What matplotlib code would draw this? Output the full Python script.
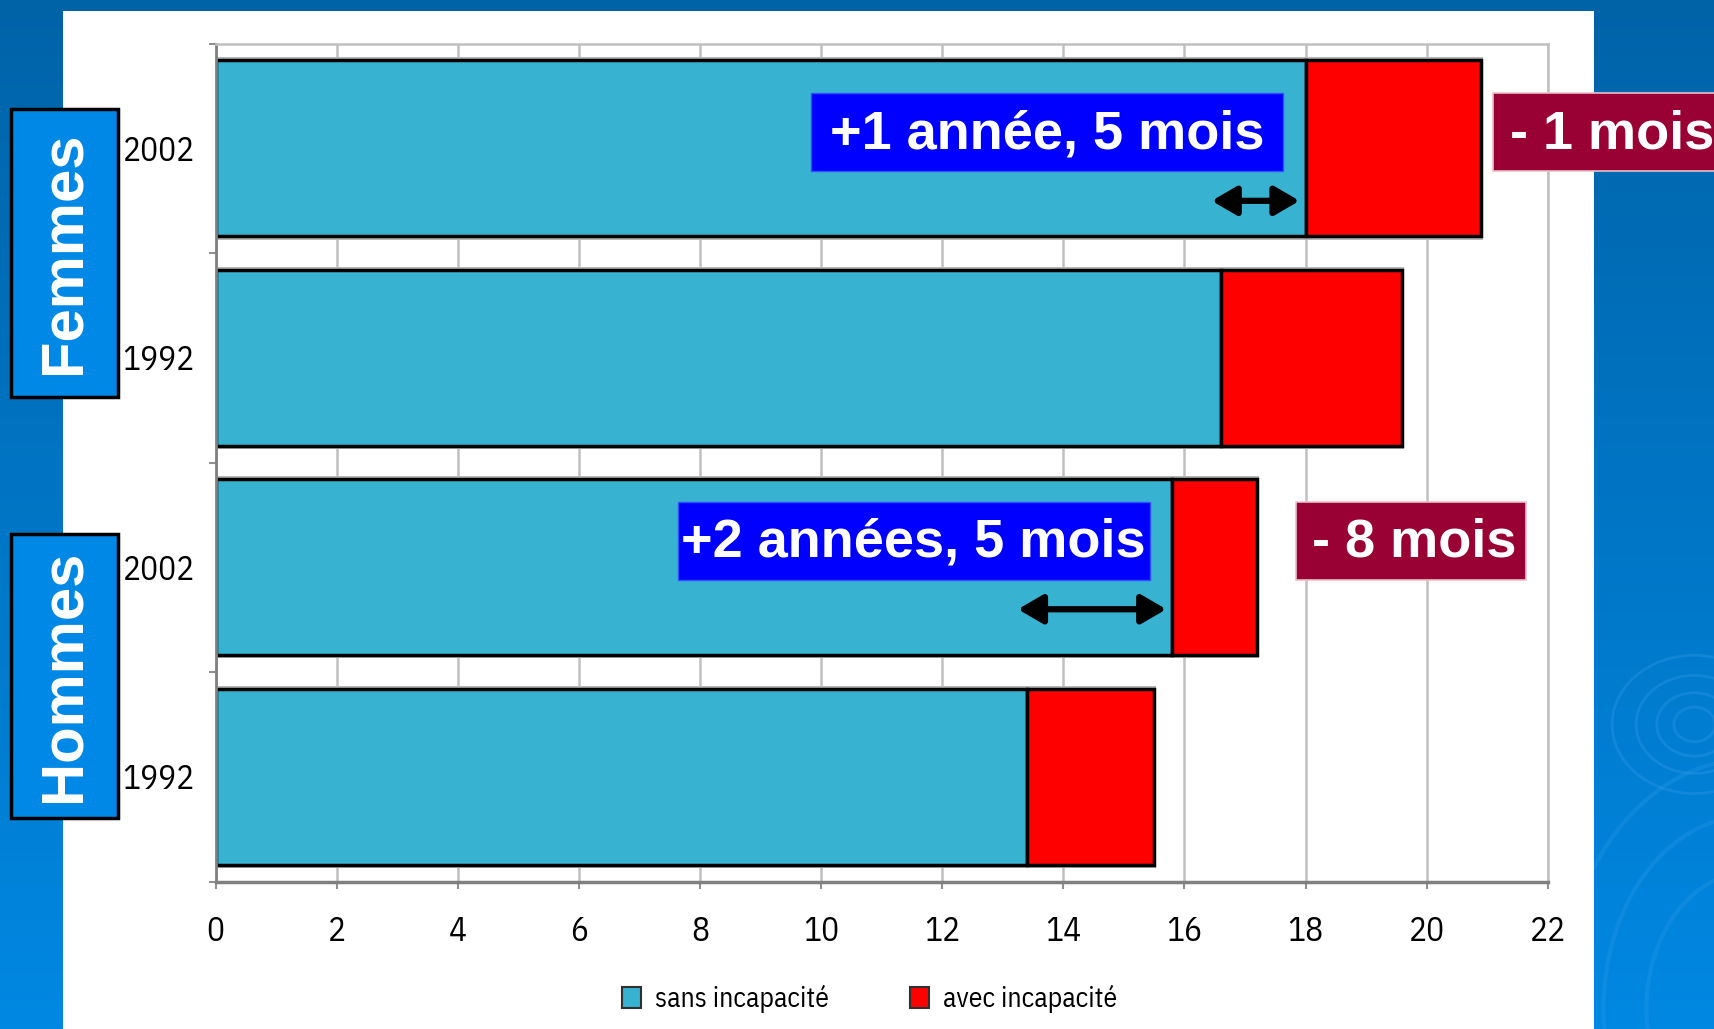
import numpy as np
import matplotlib.pyplot as plt
from matplotlib.patches import Rectangle, Patch, Ellipse
from matplotlib.colors import LinearSegmentedColormap

# life expectancy at 65 (years), split with / without disability
years = ['1992', '2002']
groups = ['Hommes', 'Femmes']
sans_hommes = [13.4, 15.8]
avec_hommes = [2.1, 1.4]
sans_femmes = [16.6, 18.0]
avec_femmes = [3.0, 2.9]
gain_labels = ['+2 années, 5 mois', '+1 année, 5 mois']
loss_labels = ['- 8 mois', '- 1 mois']
legend_labels = ['sans incapacité', 'avec incapacité']
x_ticks = list(range(0, 23, 2))

CYAN = '#37B2D1'
RED = '#FF0000'
BLUE = '#0000FF'
WINE = '#990033'
GROUP_BLUE = '#0088E6'
NARROW = ['Liberation Sans Narrow', 'IBM Plex Sans Condensed', 'DejaVu Sans']
BOLD = ['Liberation Sans', 'DejaVu Sans']

plt.rcParams['font.family'] = NARROW

fig = plt.figure(figsize=(17.15, 10.29), dpi=100)

# slide background + white panel
bg = fig.add_axes([0, 0, 1, 1], zorder=-10)
grad = np.linspace(0, 1, 256).reshape(-1, 1)
cmap = LinearSegmentedColormap.from_list('slide', ['#0063A8', '#0088E2'])
bg.imshow(grad, aspect='auto', cmap=cmap, extent=[0, 1, 0, 1], origin='upper')
# faint water ripples on the right edge
for r in [0.012, 0.022, 0.034, 0.048]:
    bg.add_patch(Ellipse((0.988, 0.296), 2 * r, 2 * r * 1.4, fill=False,
                         edgecolor='#3aa0ee', linewidth=2, alpha=0.3))
for r in [0.06, 0.085, 0.11]:
    bg.add_patch(Ellipse((1.02, 0.02), 2 * r, 2 * r * 2.2, fill=False,
                         edgecolor='#2c9ae8', linewidth=3, alpha=0.3))
bg.add_patch(Rectangle((0.037, 0), 0.8925, 0.989, facecolor='white', edgecolor='none'))
bg.set_xlim(0, 1)
bg.set_ylim(0, 1)
bg.axis('off')

ax = fig.add_axes([0.1257, 0.1433, 0.7768, 0.8142], facecolor='none')

sans = sans_hommes + sans_femmes
avec = avec_hommes + avec_femmes
ypos = np.arange(len(sans))
totals = np.array(sans) + np.array(avec)

# light grey shadow around the bars
ax.barh(ypos, totals + 0.06, height=0.87, left=-0.03, color='#b8b8b8', zorder=1)
ax.barh(ypos, sans, height=0.84, color=CYAN, edgecolor='black', linewidth=2.5, zorder=2)
ax.barh(ypos, avec, height=0.84, left=sans, color=RED, edgecolor='black', linewidth=2.5, zorder=2)

ax.set_xlim(0, 22)
ax.set_ylim(-0.5, 3.47)
ax.set_xticks(x_ticks)
ax.set_xticklabels([str(t) for t in x_ticks], fontsize=24)
ax.set_yticks(ypos)
ax.set_yticklabels(years * 2, fontsize=24)
ax.set_yticks(np.arange(-0.5, 3.6, 1), minor=True)
ax.tick_params(axis='y', which='major', length=0, pad=15)
ax.tick_params(axis='y', which='minor', length=5, color='#909090', width=1.5)
ax.tick_params(axis='x', length=5, color='#909090', width=1.5, pad=20)
ax.grid(axis='x', color='#c0c0c0', linewidth=1.8, zorder=0)
ax.set_axisbelow(True)
for side in ['top', 'right']:
    ax.spines[side].set_color('#c0c0c0')
    ax.spines[side].set_linewidth(1.8)
ax.spines['left'].set_color('#808080')
ax.spines['left'].set_linewidth(2)
ax.spines['bottom'].set_color('#808080')
ax.spines['bottom'].set_linewidth(2.5)

# annotation boxes on the 2002 bars
box_offsets = [0.127, 0.079]
arrow_offsets = [-0.2, -0.25]
loss_left = [17.84, 21.1]
for g, (s, lab, loss) in enumerate(zip([sans_hommes, sans_femmes], gain_labels, loss_labels)):
    y = 2 * g + 1
    yc = y + box_offsets[g]
    right = s[1] - 0.37
    ax.add_patch(Rectangle((right - 7.8, yc - 0.186), 7.8, 0.372, facecolor=BLUE,
                           edgecolor='#3050ff', linewidth=1, zorder=4))
    ax.text(right - 3.9, yc - 0.01, lab, ha='center', va='center', color='white',
            fontsize=39, fontweight='bold', family=BOLD, zorder=5)
    ax.add_patch(Rectangle((loss_left[g], yc - 0.186), 3.8, 0.372, facecolor=WINE,
                           edgecolor='#e8c0c8', linewidth=1.2, zorder=4, clip_on=False))
    ax.text(loss_left[g] + 0.27, yc - 0.01, loss, ha='left', va='center', color='white',
            fontsize=39, fontweight='bold', family=BOLD, zorder=5, clip_on=False)
    ya = y + arrow_offsets[g]
    ax.annotate('', xy=(s[1] - 0.1, ya), xytext=(s[0] - 0.15, ya),
                arrowprops=dict(arrowstyle='<|-|>,head_length=0.6,head_width=0.35',
                                color='black', lw=4.5, mutation_scale=25,
                                shrinkA=0, shrinkB=0), zorder=5)

# group labels on the left
group_boxes = {'Hommes': (0.205, 0.481), 'Femmes': (0.614, 0.894)}
for name in groups:
    y0, y1 = group_boxes[name]
    bg.add_patch(Rectangle((0.0064, y0), 0.0624, y1 - y0, facecolor=GROUP_BLUE,
                           edgecolor='black', linewidth=2.5, zorder=3))
    bg.text(0.0376, (y0 + y1) / 2, name, rotation=90, ha='center', va='center',
            color='white', fontsize=43, fontweight='bold', family=BOLD, zorder=4)

handles = [Patch(facecolor=CYAN, edgecolor='#303030', linewidth=1.5),
           Patch(facecolor=RED, edgecolor='#303030', linewidth=1.5)]
fig.legend(handles, legend_labels, loc='center', bbox_to_anchor=(0.507, 0.029),
           ncol=2, frameon=False, prop={'family': NARROW, 'size': 20},
           handlelength=0.7, handleheight=0.8, handletextpad=0.5, columnspacing=2.9)

fig.savefig('out.png', dpi=100)
